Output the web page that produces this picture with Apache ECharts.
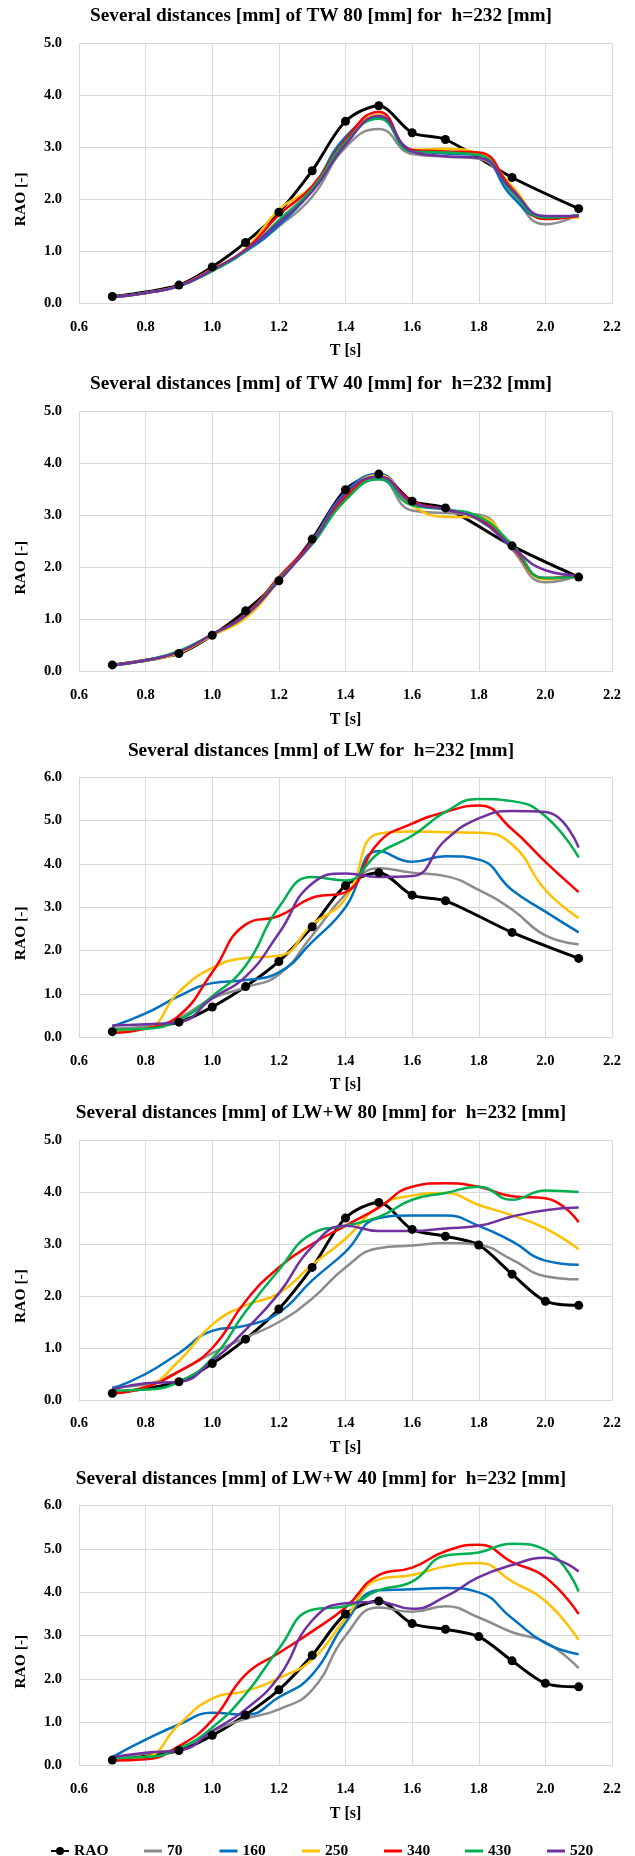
<!DOCTYPE html>
<html>
<head>
<meta charset="utf-8">
<script src="https://cdn.jsdelivr.net/npm/echarts@6/dist/echarts.min.js"></script>
<style>
html,body{margin:0;padding:0;background:#fff;}
#chart{width:635px;height:1856px;}
</style>
</head>
<body>
<div id="chart"></div>
<script>
// ---------------- DATA ----------------
const titles = [
  "Several distances [mm] of TW 80 [mm] for  h=232 [mm]",
  "Several distances [mm] of TW 40 [mm] for  h=232 [mm]",
  "Several distances [mm] of LW for  h=232 [mm]",
  "Several distances [mm] of LW+W 80 [mm] for  h=232 [mm]",
  "Several distances [mm] of LW+W 40 [mm] for  h=232 [mm]"
];
const seriesNames = ["RAO", "70", "160", "250", "340", "430", "520"];
const xTickLabels = ["0.6", "0.8", "1.0", "1.2", "1.4", "1.6", "1.8", "2.0", "2.2"];
const yAxisTitle = "RAO [-]";
const xAxisTitle = "T [s]";
const yMaxes = [5, 5, 6, 5, 6];

// periods for the distance curves
const T = [0.7, 0.8, 0.9, 1.0, 1.1, 1.2, 1.3, 1.4, 1.5, 1.6, 1.7, 1.8, 1.9, 2.0, 2.1];
// RAO reference (panels 1-3)
const T_rao12 = [0.7, 0.9, 1.0, 1.1, 1.2, 1.3, 1.4, 1.5, 1.6, 1.7, 1.9, 2.1];
const rao12   = [0.13, 0.35, 0.70, 1.17, 1.75, 2.55, 3.50, 3.80, 3.28, 3.15, 2.42, 1.82];
// RAO reference (panels 4-5)
const T_rao14 = [0.7, 0.9, 1.0, 1.1, 1.2, 1.3, 1.4, 1.5, 1.6, 1.7, 1.8, 1.9, 2.0, 2.1];
const rao14   = [0.13, 0.35, 0.70, 1.17, 1.75, 2.55, 3.50, 3.80, 3.28, 3.15, 2.98, 2.42, 1.90, 1.82];

// Panel 1: TW 80
const p1_70  = [0.12,0.20,0.33,0.63,1.00,1.48,2.05,3.00,3.35,2.87,2.82,2.78,2.10,1.52,1.70];
const p1_160 = [0.12,0.20,0.33,0.65,1.00,1.50,2.20,3.20,3.58,2.95,2.88,2.85,2.05,1.65,1.70];
const p1_250 = [0.12,0.20,0.34,0.66,1.05,1.80,2.25,3.10,3.62,2.95,2.97,2.88,2.25,1.65,1.65];
const p1_340 = [0.12,0.20,0.34,0.65,1.03,1.70,2.25,3.15,3.68,2.95,2.92,2.90,2.20,1.62,1.68];
const p1_430 = [0.12,0.20,0.33,0.62,1.00,1.60,2.20,3.10,3.55,2.92,2.90,2.85,2.15,1.65,1.70];
const p1_520 = [0.12,0.20,0.33,0.64,1.02,1.55,2.15,3.05,3.60,2.92,2.83,2.80,2.18,1.68,1.68];
// Panel 2: TW 40
const p2_70  = [0.12,0.22,0.38,0.70,1.08,1.75,2.50,3.40,3.70,3.10,3.05,3.02,2.35,1.72,1.85];
const p2_160 = [0.12,0.22,0.38,0.70,1.07,1.75,2.52,3.45,3.80,3.25,3.12,2.95,2.38,1.80,1.85];
const p2_250 = [0.12,0.22,0.36,0.70,1.03,1.75,2.50,3.40,3.78,3.20,2.98,2.97,2.40,1.78,1.88];
const p2_340 = [0.12,0.22,0.38,0.72,1.10,1.82,2.50,3.35,3.75,3.28,3.12,2.95,2.40,1.80,1.85];
const p2_430 = [0.12,0.22,0.40,0.72,1.08,1.78,2.45,3.30,3.70,3.20,3.12,2.98,2.45,1.80,1.83];
const p2_520 = [0.12,0.22,0.38,0.72,1.08,1.75,2.48,3.42,3.75,3.25,3.12,2.92,2.40,1.95,1.85];
// Panel 3: LW
const p3_70  = [0.20,0.25,0.45,0.90,1.15,1.45,2.35,3.30,3.90,3.80,3.72,3.40,2.95,2.35,2.15];
const p3_160 = [0.25,0.55,0.95,1.25,1.32,1.50,2.20,3.00,4.30,4.05,4.18,4.10,3.40,2.90,2.42];
const p3_250 = [0.15,0.20,1.05,1.60,1.83,1.88,2.60,3.20,4.70,4.75,4.73,4.72,4.45,3.40,2.75];
const p3_340 = [0.10,0.20,0.50,1.50,2.60,2.80,3.22,3.35,4.50,4.93,5.20,5.35,4.80,4.05,3.35];
const p3_430 = [0.18,0.20,0.40,0.95,1.65,3.00,3.70,3.62,4.25,4.65,5.20,5.50,5.45,5.10,4.15];
const p3_520 = [0.27,0.30,0.35,0.90,1.40,2.40,3.55,3.78,3.70,3.72,4.55,5.05,5.22,5.20,4.38];
// Panel 4: LW+W 80
const p4_70  = [0.25,0.30,0.55,0.90,1.20,1.50,1.95,2.55,2.92,2.97,3.02,2.98,2.70,2.38,2.32];
const p4_160 = [0.22,0.50,0.90,1.33,1.43,1.68,2.30,2.85,3.50,3.55,3.55,3.35,3.05,2.68,2.60];
const p4_250 = [0.15,0.25,0.75,1.45,1.82,2.05,2.60,3.10,3.72,3.93,3.98,3.75,3.55,3.30,2.90];
const p4_340 = [0.12,0.25,0.55,1.00,1.90,2.55,3.00,3.35,3.70,4.10,4.17,4.10,3.92,3.88,3.42];
const p4_430 = [0.18,0.20,0.35,0.80,1.70,2.50,3.20,3.35,3.52,3.85,3.98,4.10,3.85,4.03,4.00];
const p4_520 = [0.20,0.32,0.35,0.75,1.35,2.05,2.95,3.35,3.25,3.25,3.30,3.35,3.53,3.65,3.70];
// Panel 5: LW+W 40
const p5_70  = [0.18,0.28,0.40,0.80,1.08,1.30,1.75,3.00,3.65,3.55,3.68,3.42,3.08,2.85,2.25];
const p5_160 = [0.20,0.60,0.95,1.22,1.18,1.58,2.10,3.30,4.05,4.07,4.10,4.00,3.40,2.83,2.57];
const p5_250 = [0.15,0.20,0.95,1.55,1.72,2.02,2.45,3.40,4.30,4.40,4.60,4.68,4.25,3.80,2.90];
const p5_340 = [0.12,0.15,0.45,1.05,2.10,2.60,3.10,3.65,4.40,4.57,4.95,5.10,4.70,4.35,3.50];
const p5_430 = [0.18,0.20,0.40,0.88,1.65,2.70,3.60,3.68,4.05,4.25,4.85,4.92,5.12,4.98,4.02];
const p5_520 = [0.20,0.30,0.35,0.80,1.30,2.05,3.35,3.75,3.78,3.62,3.90,4.35,4.63,4.80,4.48];

const panels = [
  { raoT: T_rao12, rao: rao12, curves: [p1_70, p1_160, p1_250, p1_340, p1_430, p1_520] },
  { raoT: T_rao12, rao: rao12, curves: [p2_70, p2_160, p2_250, p2_340, p2_430, p2_520] },
  { raoT: T_rao12, rao: rao12, curves: [p3_70, p3_160, p3_250, p3_340, p3_430, p3_520] },
  { raoT: T_rao14, rao: rao14, curves: [p4_70, p4_160, p4_250, p4_340, p4_430, p4_520] },
  { raoT: T_rao14, rao: rao14, curves: [p5_70, p5_160, p5_250, p5_340, p5_430, p5_520] }
];

// ---------------- STYLE / LAYOUT ----------------
const colors = ["#000000", "#8C8C8C", "#0070C0", "#FFC000", "#FF0000", "#00B050", "#7030A0"];
const FONT = "Liberation Serif";
const gridTops = [43.3, 411.7, 777.3, 1140, 1505.7];
const titleY = [16.5, 384.5, 751, 1113.5, 1479.5];
const GRID_LEFT = 79, GRID_W = 533, GRID_H = 260;
const Y_TITLE_SHIFT = 26; // y-axis titles sit a little below each plot's middle
const legendLefts = [50, 144, 219.5, 302, 384, 465, 547];
const GRIDC = "#D9D9D9";
const labelFont = { fontFamily: FONT, fontWeight: "bold", color: "#000" };
const N = gridTops.length;

const zip = (xs, ys) => xs.map((x, i) => [x, ys[i]]);

const option = {
  animation: false,
  backgroundColor: "#ffffff",
  title: titles.map((t, i) => ({
    text: t, left: 321, top: titleY[i], padding: 0,
    textAlign: "center", textVerticalAlign: "middle",
    textStyle: Object.assign({ fontSize: 19.3 }, labelFont)
  })),
  legend: seriesNames.map((n, i) => ({
    data: [i === 0 ? { name: n } : { name: n, icon: "rect" }],
    left: legendLefts[i], top: 1843, padding: 0,
    itemWidth: 18, itemHeight: i === 0 ? 10 : 3, itemGap: 0,
    textStyle: Object.assign({ fontSize: 15.5 }, labelFont)
  })),
  grid: gridTops.map(t => ({ left: GRID_LEFT, top: t, width: GRID_W, height: GRID_H, containLabel: false }))
    // helper grids (no data) that only carry the y-axis titles, shifted down
    .concat(gridTops.map(t => ({ left: GRID_LEFT, top: t + Y_TITLE_SHIFT, width: GRID_W, height: GRID_H, containLabel: false }))),
  xAxis: gridTops.map((t, i) => ({
    type: "value", gridIndex: i, min: 0.6, max: 2.2, interval: 0.2,
    name: xAxisTitle, nameLocation: "middle", nameGap: 40,
    nameTextStyle: Object.assign({ fontSize: 16 }, labelFont),
    axisLine: { show: true, lineStyle: { color: GRIDC, width: 1 } },
    axisTick: { show: false },
    axisLabel: Object.assign({ margin: 16, fontSize: 14.5,
      formatter: v => xTickLabels[Math.round((v - 0.6) / 0.2)] }, labelFont),
    splitLine: { show: true, lineStyle: { color: GRIDC, width: 1 } }
  })).concat(gridTops.map((t, i) => ({ type: "value", gridIndex: N + i, show: false }))),
  yAxis: gridTops.map((t, i) => ({
    type: "value", gridIndex: i, min: 0, max: yMaxes[i], interval: 1,
    axisLine: { show: true, lineStyle: { color: GRIDC, width: 1 } },
    axisTick: { show: false },
    axisLabel: Object.assign({ margin: 17, fontSize: 14.5, formatter: v => v.toFixed(1) }, labelFont),
    splitLine: { show: true, lineStyle: { color: GRIDC, width: 1 } }
  })).concat(gridTops.map((t, i) => ({
    type: "value", gridIndex: N + i, min: 0, max: 1,
    name: yAxisTitle, nameLocation: "middle", nameGap: 50, nameRotate: 90,
    nameTextStyle: Object.assign({ fontSize: 15.5 }, labelFont),
    axisLine: { show: false }, axisTick: { show: false },
    axisLabel: { show: false }, splitLine: { show: false }
  }))),
  series: []
};

panels.forEach((p, gi) => {
  option.series.push({
    name: "RAO", type: "line", xAxisIndex: gi, yAxisIndex: gi,
    data: zip(p.raoT, p.rao), smooth: 0.3,
    symbol: "circle", symbolSize: 9,
    lineStyle: { color: colors[0], width: 3 },
    itemStyle: { color: colors[0] }
  });
  p.curves.forEach((c, k) => {
    option.series.push({
      name: seriesNames[k + 1], type: "line", xAxisIndex: gi, yAxisIndex: gi,
      data: zip(T, c), smooth: 0.5, symbol: "none",
      lineStyle: { color: colors[k + 1], width: 2.5 },
      itemStyle: { color: colors[k + 1] }
    });
  });
});

const chart = echarts.init(document.getElementById("chart"), null, { renderer: "canvas" });
chart.setOption(option);
</script>
</body>
</html>
